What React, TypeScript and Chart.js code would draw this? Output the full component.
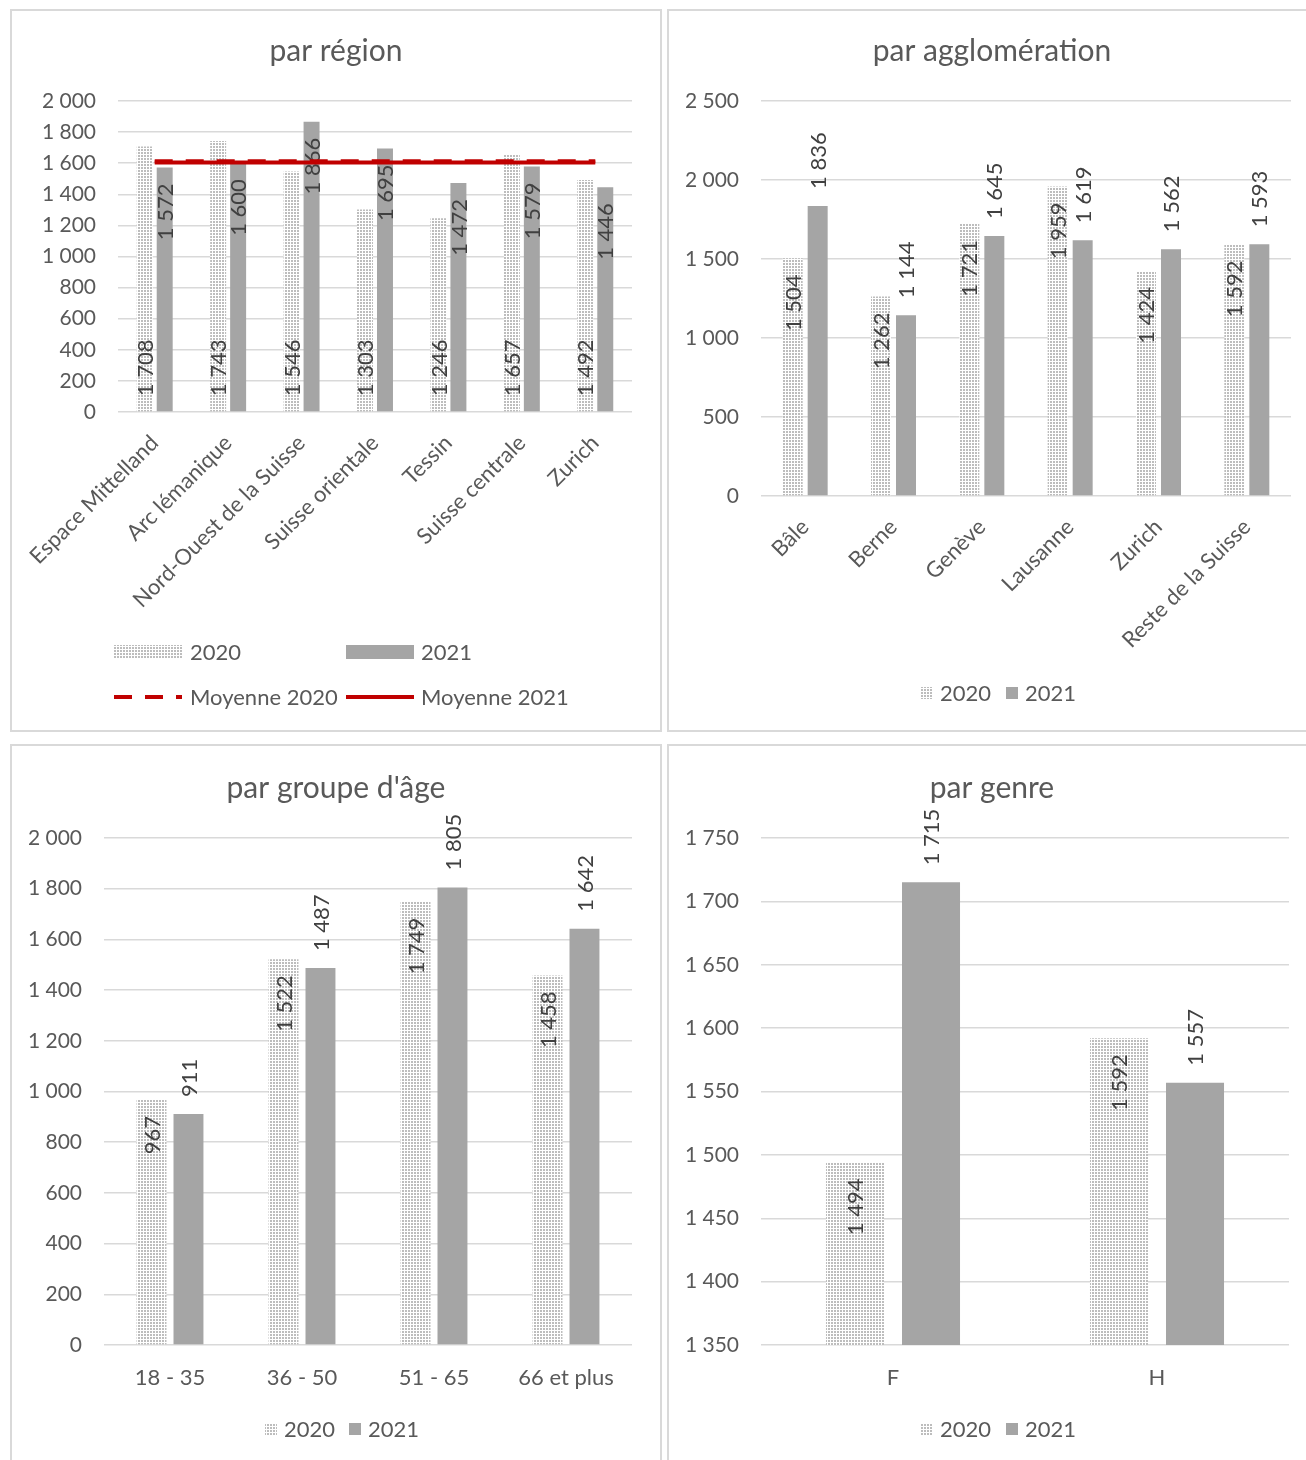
import React, { useEffect, useRef } from 'react';
import { Chart, registerables } from 'chart.js';

Chart.register(...registerables);

const FONT = 'Lato, "Open Sans", sans-serif';
const TEXT = '#595959';
const LABEL = '#404040';
const GRID = '#d9d9d9';
const SOLID = '#a5a5a5';
const RED = '#c00000';

// ---- Data: par région ----
const regionCategories = ['Espace Mittelland', 'Arc lémanique', 'Nord-Ouest de la Suisse', 'Suisse orientale', 'Tessin', 'Suisse centrale', 'Zurich'];
const region2020 = [1708, 1743, 1546, 1303, 1246, 1657, 1492];
const region2021 = [1572, 1600, 1866, 1695, 1472, 1579, 1446];
const regionMoyenne2020 = [1612, 1612, 1612, 1612, 1612, 1612, 1612];
const regionMoyenne2021 = [1604, 1604, 1604, 1604, 1604, 1604, 1604];

// ---- Data: par agglomération ----
const aggloCategories = ['Bâle', 'Berne', 'Genève', 'Lausanne', 'Zurich', 'Reste de la Suisse'];
const agglo2020 = [1504, 1262, 1721, 1959, 1424, 1592];
const agglo2021 = [1836, 1144, 1645, 1619, 1562, 1593];

// ---- Data: par groupe d'âge ----
const ageCategories = ['18 - 35', '36 - 50', '51 - 65', '66 et plus'];
const age2020 = [967, 1522, 1749, 1458];
const age2021 = [911, 1487, 1805, 1642];

// ---- Data: par genre ----
const genreCategories = ['F', 'H'];
const genre2020 = [1494, 1592];
const genre2021 = [1715, 1557];

// ---- Axis ranges ----
const regionAxis = [0, 2000, 200];
const aggloAxis = [0, 2500, 500];
const ageAxis = [0, 2000, 200];
const genreAxis = [1350, 1750, 50];

const TITLE_SIZE = 30;
const TICK_SIZE = 21;
const XLABEL_SIZE = 22;
const DATA_SIZE = 22;
const LEGEND_SIZE = 22;

function fmt(v: number): string {
  return String(Math.round(v)).replace(/\B(?=(\d{3})+(?!\d))/g, ' ');
}

let patternCache: CanvasPattern | null = null;
function dotPattern(ctx: CanvasRenderingContext2D): CanvasPattern {
  if (patternCache) return patternCache;
  const c = document.createElement('canvas');
  c.width = 3;
  c.height = 3;
  const g = c.getContext('2d')!;
  g.fillStyle = '#ffffff';
  g.fillRect(0, 0, 3, 3);
  g.fillStyle = '#bdbdbd';
  g.fillRect(0, 0, 2, 2);
  patternCache = ctx.createPattern(c, 'repeat')!;
  return patternCache;
}

const barLabelPlugin = {
  id: 'barLabels',
  afterDatasetDraw(chart: any, args: any) {
    const ds: any = chart.data.datasets[args.index];
    const mode = ds.labelMode;
    if (!mode) return;
    const ctx: CanvasRenderingContext2D = chart.ctx;
    ctx.save();
    ctx.font = `${DATA_SIZE}px ${FONT}`;
    ctx.fillStyle = LABEL;
    ctx.textBaseline = 'middle';
    args.meta.data.forEach((el: any, i: number) => {
      const v = ds.data[i];
      const p = el.getProps(['x', 'y', 'base'], true);
      let ay: number;
      let align: CanvasTextAlign;
      if (mode === 'base') {
        ay = p.base - 15;
        align = 'left';
      } else if (mode === 'inside') {
        ay = p.y + 16;
        align = 'right';
      } else {
        ay = p.y - 17;
        align = 'left';
      }
      ctx.save();
      ctx.translate(p.x + 1, ay);
      ctx.rotate(-Math.PI / 2);
      ctx.textAlign = align;
      ctx.fillText(fmt(v), 0, 0);
      ctx.restore();
    });
    ctx.restore();
  },
};

const decorPlugin = {
  id: 'decor',
  afterDraw(chart: any, _args: any, opts: any) {
    const ctx: CanvasRenderingContext2D = chart.ctx;
    ctx.save();
    ctx.fillStyle = TEXT;
    ctx.font = `${TITLE_SIZE}px ${FONT}`;
    ctx.textAlign = 'center';
    ctx.textBaseline = 'middle';
    ctx.fillText(opts.title, chart.width / 2, opts.titleY);
    ctx.font = `${LEGEND_SIZE}px ${FONT}`;
    ctx.textAlign = 'left';
    for (const it of opts.legend) {
      const label = chart.data.datasets[it.ds].label;
      if (it.kind === 'pattern' || it.kind === 'solid') {
        ctx.fillStyle = it.kind === 'pattern' ? dotPattern(ctx) : SOLID;
        ctx.fillRect(it.x, it.y - it.h / 2, it.w, it.h);
      } else {
        ctx.strokeStyle = RED;
        ctx.lineWidth = 4;
        ctx.setLineDash(it.kind === 'dash' ? [18, 13] : []);
        ctx.beginPath();
        ctx.moveTo(it.x, it.y);
        ctx.lineTo(it.x + it.w, it.y);
        ctx.stroke();
        ctx.setLineDash([]);
      }
      ctx.fillStyle = TEXT;
      ctx.fillText(label, it.tx, it.y + 1);
    }
    ctx.restore();
  },
};

interface Spec {
  labels: string[];
  d2020: number[];
  d2021: number[];
  modes: [string, string];
  m2020?: number[];
  m2021?: number[];
  axis: number[];
  rotate: boolean;
  catPct: number;
  barPct: number;
  area: { left: number; top: number; right: number; bottom: number };
  width: number;
  height: number;
  title: string;
  titleY: number;
  legend: any[];
  xPad: number;
}

function buildConfig(s: Spec, ctx: CanvasRenderingContext2D): any {
  const datasets: any[] = [];
  if (s.m2020 && s.m2021) {
    datasets.push({
      type: 'line',
      label: 'Moyenne 2021',
      data: s.m2021,
      borderColor: RED,
      borderWidth: 4,
      pointRadius: 0,
      fill: false,
      order: 0,
    });
    datasets.push({
      type: 'line',
      label: 'Moyenne 2020',
      data: s.m2020,
      borderColor: RED,
      borderWidth: 4,
      borderDash: [18, 13],
      pointRadius: 0,
      fill: false,
      order: 1,
    });
  }
  const b0 = datasets.length;
  datasets.push({
    type: 'bar',
    label: '2020',
    data: s.d2020,
    backgroundColor: dotPattern(ctx),
    categoryPercentage: s.catPct,
    barPercentage: s.barPct,
    labelMode: s.modes[0],
    order: 2,
  });
  datasets.push({
    type: 'bar',
    label: '2021',
    data: s.d2021,
    backgroundColor: SOLID,
    categoryPercentage: s.catPct,
    barPercentage: s.barPct,
    labelMode: s.modes[1],
    order: 3,
  });
  const legend = s.legend.map((l) => ({ ...l, ds: l.ds + (l.bar ? b0 : 0) }));
  return {
    type: 'bar',
    data: { labels: s.labels, datasets },
    options: {
      responsive: false,
      animation: false,
      devicePixelRatio: 1,
      layout: { padding: { top: s.area.top, right: s.width - s.area.right, left: 0, bottom: 0 } },
      plugins: {
        legend: { display: false },
        title: { display: false },
        tooltip: { enabled: false },
        decor: { title: s.title, titleY: s.titleY, legend },
      },
      scales: {
        x: {
          grid: { display: false },
          border: { display: false },
          ticks: {
            autoSkip: false,
            minRotation: s.rotate ? 45 : 0,
            maxRotation: s.rotate ? 45 : 0,
            color: TEXT,
            font: { family: FONT, size: XLABEL_SIZE },
            padding: s.xPad,
          },
          afterFit: (sc: any) => {
            sc.height = s.height - s.area.bottom;
            sc.paddingLeft = 0;
            sc.paddingRight = 0;
          },
        },
        y: {
          min: s.axis[0],
          max: s.axis[1],
          grid: { color: GRID, lineWidth: 1.5, drawTicks: false },
          border: { display: false },
          ticks: {
            stepSize: s.axis[2],
            color: TEXT,
            font: { family: FONT, size: TICK_SIZE },
            padding: 22,
            callback: (v: any) => fmt(Number(v)),
          },
          afterFit: (sc: any) => {
            sc.width = s.area.left;
            sc.paddingTop = 0;
            sc.paddingBottom = 0;
          },
        },
      },
    },
    plugins: [barLabelPlugin, decorPlugin],
  };
}

function Panel({ left, top, spec }: { left: number; top: number; spec: Spec }) {
  const ref = useRef<HTMLCanvasElement>(null);
  useEffect(() => {
    const canvas = ref.current!;
    const ctx = canvas.getContext('2d')!;
    const chart = new Chart(canvas, buildConfig(spec, ctx));
    return () => chart.destroy();
  }, []);
  return (
    <div
      style={{
        position: 'absolute',
        left,
        top,
        width: spec.width,
        height: spec.height,
        border: `2px solid ${GRID}`,
        background: '#fff',
      }}
    >
      <canvas ref={ref} width={spec.width} height={spec.height} style={{ display: 'block', width: spec.width, height: spec.height }} />
    </div>
  );
}

const regionSpec: Spec = {
  labels: regionCategories,
  d2020: region2020,
  d2021: region2021,
  m2020: regionMoyenne2020,
  m2021: regionMoyenne2021,
  modes: ['base', 'inside'],
  axis: regionAxis,
  rotate: true,
  catPct: 0.544,
  barPct: 0.8,
  area: { left: 106, top: 90, right: 620, bottom: 401 },
  width: 648,
  height: 719,
  title: 'par région',
  titleY: 40,
  xPad: 10,
  legend: [
    { kind: 'pattern', bar: true, ds: 0, x: 102, y: 641, w: 68, h: 14, tx: 178 },
    { kind: 'solid', bar: true, ds: 1, x: 334, y: 641, w: 68, h: 14, tx: 409 },
    { kind: 'dash', bar: false, ds: 1, x: 102, y: 686, w: 68, h: 4, tx: 178 },
    { kind: 'line', bar: false, ds: 0, x: 334, y: 686, w: 68, h: 4, tx: 409 },
  ],
};

const aggloSpec: Spec = {
  labels: aggloCategories,
  d2020: agglo2020,
  d2021: agglo2021,
  modes: ['inside', 'outside'],
  axis: aggloAxis,
  rotate: true,
  catPct: 0.566,
  barPct: 0.8,
  area: { left: 92, top: 90, right: 622, bottom: 485 },
  width: 646,
  height: 719,
  title: 'par agglomération',
  titleY: 40,
  xPad: 10,
  legend: [
    { kind: 'pattern', bar: true, ds: 0, x: 252, y: 682, w: 12, h: 12, tx: 271 },
    { kind: 'solid', bar: true, ds: 1, x: 337, y: 682, w: 12, h: 12, tx: 356 },
  ],
};

const ageSpec: Spec = {
  labels: ageCategories,
  d2020: age2020,
  d2021: age2021,
  modes: ['inside', 'outside'],
  axis: ageAxis,
  rotate: false,
  catPct: 0.56,
  barPct: 0.81,
  area: { left: 92, top: 92, right: 620, bottom: 599 },
  width: 648,
  height: 720,
  title: "par groupe d'âge",
  titleY: 42,
  xPad: 12,
  legend: [
    { kind: 'pattern', bar: true, ds: 0, x: 253, y: 683, w: 12, h: 12, tx: 272 },
    { kind: 'solid', bar: true, ds: 1, x: 337, y: 683, w: 12, h: 12, tx: 356 },
  ],
};

const genreSpec: Spec = {
  labels: genreCategories,
  d2020: genre2020,
  d2021: genre2021,
  modes: ['inside', 'outside'],
  axis: genreAxis,
  rotate: false,
  catPct: 0.576,
  barPct: 0.763,
  area: { left: 92, top: 92, right: 620, bottom: 599 },
  width: 646,
  height: 720,
  title: 'par genre',
  titleY: 42,
  xPad: 12,
  legend: [
    { kind: 'pattern', bar: true, ds: 0, x: 252, y: 683, w: 12, h: 12, tx: 271 },
    { kind: 'solid', bar: true, ds: 1, x: 337, y: 683, w: 12, h: 12, tx: 356 },
  ],
};

export default function App() {
  return (
    <div style={{ position: 'absolute', left: 0, top: 0, width: 1306, height: 1460, overflow: 'hidden', background: '#fff' }}>
      <Panel left={10} top={9} spec={regionSpec} />
      <Panel left={667} top={9} spec={aggloSpec} />
      <Panel left={10} top={744} spec={ageSpec} />
      <Panel left={667} top={744} spec={genreSpec} />
    </div>
  );
}
